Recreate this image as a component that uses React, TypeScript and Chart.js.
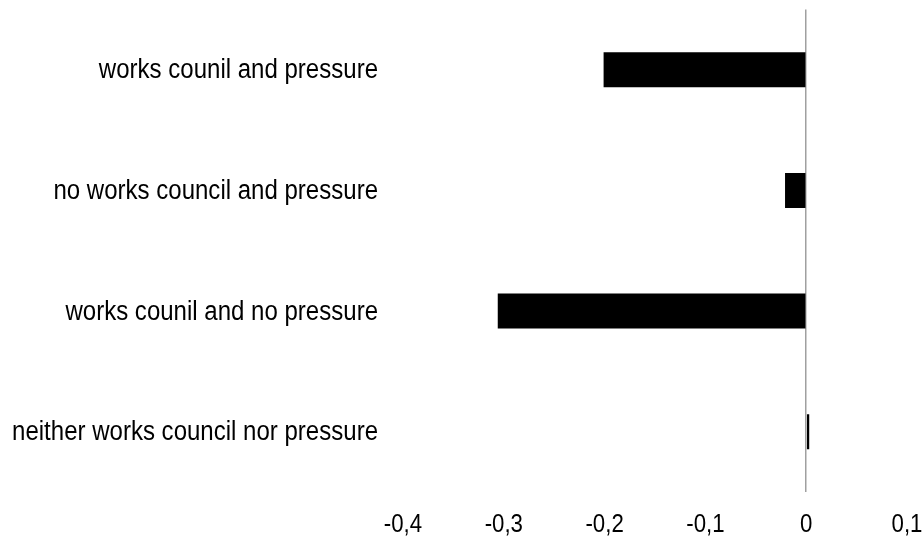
import React, { useEffect, useRef } from "react";
import { Chart, registerables } from "chart.js";

Chart.register(...registerables);

const categories = [
  "works counil and pressure",
  "no works council and pressure",
  "works counil and no pressure",
  "neither works council nor pressure",
];
const values = [-0.201, -0.021, -0.306, 0.003];
const xMin = -0.4;
const xMax = 0.1;
const xStep = 0.1;

const FONT = "'Liberation Sans', Arial, sans-serif";
const FONT_SIZE = 27;
const X_FONT_SIZE = 25;
const NARROW = 0.89;

const fmt = (v: number) => String(Math.round(v * 10) / 10).replace(".", ",");

const narrowLabels = {
  id: "narrowLabels",
  afterDraw(chart: any) {
    const { ctx, scales } = chart;
    const x = scales.x;
    const y = scales.y;
    ctx.save();
    ctx.fillStyle = "#000";
    ctx.textBaseline = "alphabetic";
    ctx.font = `${FONT_SIZE}px ${FONT}`;
    ctx.textAlign = "right";
    y.ticks.forEach((t: any, i: number) => {
      const py = y.getPixelForTick(i);
      const label = chart.data.labels[t.value];
      ctx.save();
      ctx.translate(y.right - 25, py + 8.5);
      ctx.scale(NARROW, 1);
      ctx.fillText(label, 0, 0);
      ctx.restore();
    });
    ctx.font = `${X_FONT_SIZE}px ${FONT}`;
    ctx.textAlign = "center";
    x.ticks.forEach((t: any, i: number) => {
      const px = x.getPixelForTick(i);
      ctx.save();
      ctx.translate(px, x.top + 40);
      ctx.scale(NARROW, 1);
      ctx.fillText(fmt(t.value), 0, 0);
      ctx.restore();
    });
    ctx.restore();
  },
};

export default function App() {
  const ref = useRef<HTMLCanvasElement | null>(null);
  useEffect(() => {
    document.body.style.margin = "0";
    const ctx = ref.current!.getContext("2d")!;
    const chart = new Chart(ctx, {
      type: "bar",
      data: {
        labels: categories,
        datasets: [
          {
            data: values,
            backgroundColor: "#000000",
            borderWidth: 0,
            barPercentage: 0.29,
            categoryPercentage: 1,
          },
        ],
      },
      options: {
        indexAxis: "y",
        animation: false,
        responsive: false,
        maintainAspectRatio: false,
        layout: { padding: { top: 9.5, right: 16, left: 0, bottom: 0 } },
        plugins: { legend: { display: false }, tooltip: { enabled: false } },
        scales: {
          x: {
            min: xMin,
            max: xMax,
            border: { display: false },
            grid: {
              drawTicks: false,
              color: (c: any) => (c.tick && c.tick.value === 0 ? "#a0a0a0" : "rgba(0,0,0,0)"),
              lineWidth: 1.5,
            },
            ticks: { stepSize: xStep, display: false },
            afterFit: (s: any) => {
              s.height = 48;
            },
          },
          y: {
            border: { display: false },
            grid: { display: false, drawTicks: false },
            ticks: { display: false },
            afterFit: (s: any) => {
              s.width = 403;
            },
          },
        },
      },
      plugins: [narrowLabels],
    });
    return () => chart.destroy();
  }, []);
  return <canvas ref={ref} width={923} height={540} style={{ display: "block" }} />;
}
